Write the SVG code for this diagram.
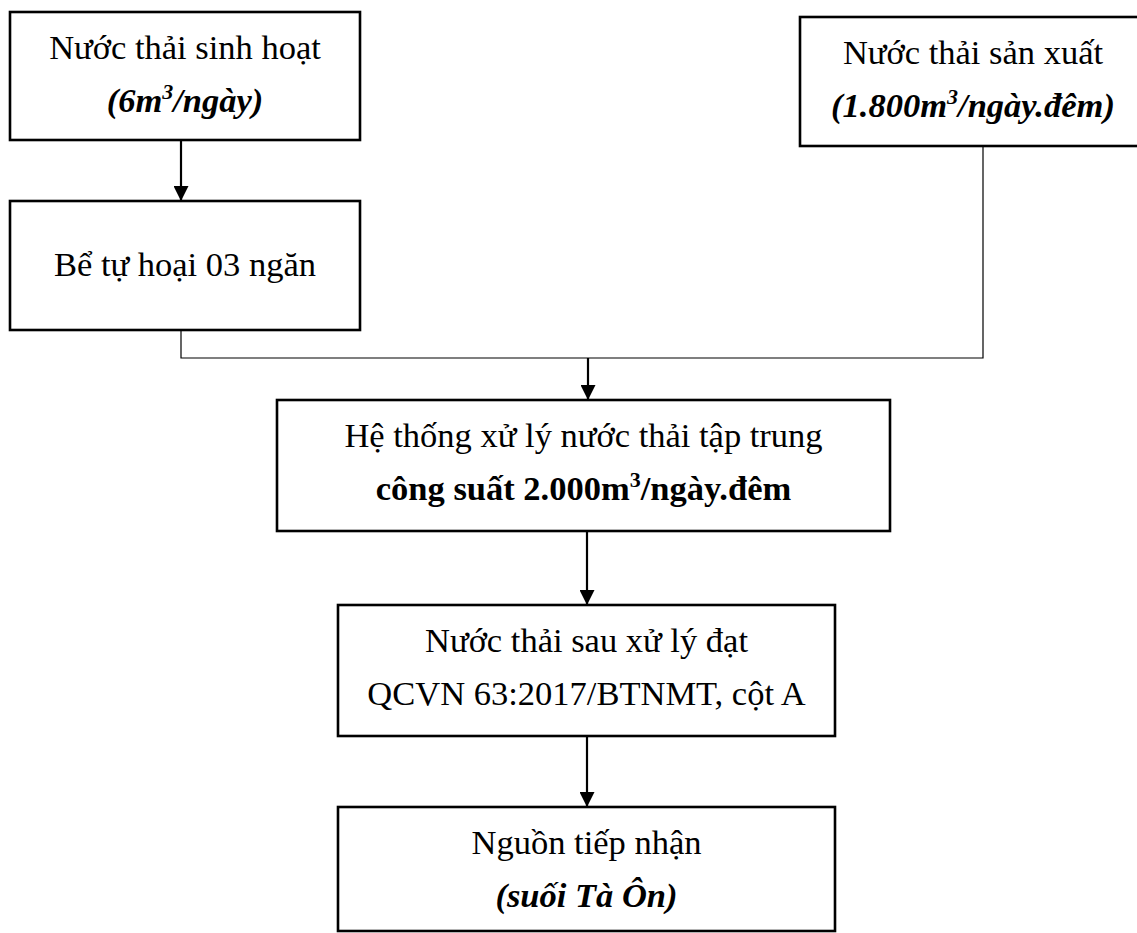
<svg xmlns="http://www.w3.org/2000/svg" width="1137" height="933" viewBox="0 0 1137 933">
  <style>
    .box { fill: #ffffff; stroke: #000000; stroke-width: 2.6; }
    .lbl { font-family: "Liberation Serif", "Times New Roman", serif; font-size: 34.5px; fill: #000000; text-anchor: middle; }
    .b { font-weight: bold; }
    .bi { font-weight: bold; font-style: italic; }
    .sup { font-size: 22px; }
    .arrow { fill: none; stroke: #000000; stroke-width: 2.2; marker-end: url(#head); }
    .thin { fill: none; stroke: #000000; stroke-width: 1.2; }
  </style>
  <defs>
    <marker id="head" markerUnits="userSpaceOnUse" markerWidth="15" markerHeight="15" refX="15" refY="7.5" orient="auto">
      <path d="M0,0 L15,7.5 L0,15 Z" fill="#000000"/>
    </marker>
  </defs>

  <rect width="1137" height="933" fill="#ffffff"/>

  <!-- connectors -->
  <g id="connectors">
    <line class="arrow" x1="181" y1="140" x2="181" y2="201"/>
    <polyline class="thin" points="181,330 181,358 983,358 983,146"/>
    <line class="arrow" x1="588" y1="358" x2="588" y2="400"/>
    <line class="arrow" x1="587" y1="531" x2="587" y2="605"/>
    <line class="arrow" x1="587" y1="736" x2="587" y2="807"/>
  </g>

  <!-- domestic wastewater -->
  <g id="domestic">
    <rect class="box" x="10" y="12" width="350" height="128"/>
    <text class="lbl" x="185" y="59">Nước thải sinh hoạt</text>
    <text class="lbl bi" x="185" y="112">(6m<tspan class="sup" dy="-13">3</tspan><tspan dy="13">/ngày)</tspan></text>
  </g>

  <!-- septic tank -->
  <g id="septic">
    <rect class="box" x="10" y="201" width="350" height="129"/>
    <text class="lbl" x="185" y="276">Bể tự hoại 03 ngăn</text>
  </g>

  <!-- production wastewater -->
  <g id="production">
    <rect class="box" x="800" y="17" width="346" height="129"/>
    <text class="lbl" x="973" y="64">Nước thải sản xuất</text>
    <text class="lbl bi" x="973" y="117">(1.800m<tspan class="sup" dy="-13">3</tspan><tspan dy="13">/ngày.đêm)</tspan></text>
  </g>

  <!-- central treatment plant -->
  <g id="treatment">
    <rect class="box" x="277" y="400" width="613" height="131"/>
    <text class="lbl" x="583.5" y="447">Hệ thống xử lý nước thải tập trung</text>
    <text class="lbl b" x="583.5" y="500">công suất 2.000m<tspan class="sup" dy="-13">3</tspan><tspan dy="13">/ngày.đêm</tspan></text>
  </g>

  <!-- treated effluent -->
  <g id="effluent">
    <rect class="box" x="338" y="605" width="497" height="131"/>
    <text class="lbl" x="586.5" y="652">Nước thải sau xử lý đạt</text>
    <text class="lbl" x="586.5" y="705">QCVN 63:2017/BTNMT, cột A</text>
  </g>

  <!-- receiving water -->
  <g id="receiver">
    <rect class="box" x="338" y="807" width="497" height="124"/>
    <text class="lbl" x="586.5" y="854">Nguồn tiếp nhận</text>
    <text class="lbl bi" x="586.5" y="907">(suối Tà Ôn)</text>
  </g>
</svg>
